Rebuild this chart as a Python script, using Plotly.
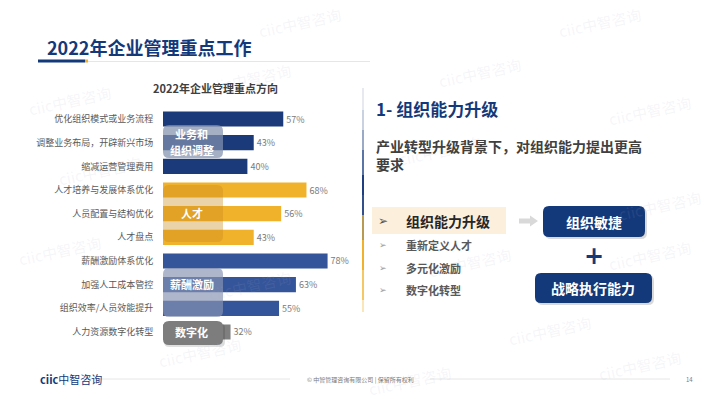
import plotly.graph_objects as go

# ---------------- data ----------------
categories = [
    "优化组织模式或业务流程", "调整业务布局，开辟新兴市场", "缩减运营管理费用",
    "人才培养与发展体系优化", "人员配置与结构优化", "人才盘点",
    "薪酬激励体系优化", "加强人工成本管控", "组织效率/人员效能提升",
    "人力资源数字化转型",
]
values = [57, 43, 40, 68, 56, 43, 78, 63, 55, 32]
groups = ["业务和组织调整"] * 3 + ["人才"] * 3 + ["薪酬激励"] * 3 + ["数字化"]
group_colors = {"业务和组织调整": "#1b3a7a", "人才": "#f0b12b",
                "薪酬激励": "#34559a", "数字化": "#7f7f7f"}
right_items = ["组织能力升级", "重新定义人才", "多元化激励", "数字化转型"]

W, H = 710, 399
FONT = "Noto Sans CJK SC"


def px(x):
    return x / W


def py(y):
    return 1 - y / H


fig = go.Figure()
fig.add_trace(go.Bar(
    y=categories, x=values, orientation="h",
    marker=dict(color=[group_colors[g] for g in groups], line=dict(width=0)),
    width=0.64,
    text=[f"{v}%" for v in values], textposition="outside",
    textfont=dict(size=9, color="#7a7a7a", family=FONT),
    cliponaxis=False, hoverinfo="skip",
))

shapes = []
annotations = []


def ann(x, y, text, size, color, xanchor="center", family=FONT, **kw):
    annotations.append(dict(x=px(x), y=py(y), xref="paper", yref="paper",
                            xanchor=xanchor, yanchor="middle", text=text,
                            showarrow=False, font=dict(size=size, color=color, family=family),
                            **kw))


def rrect(x0, y0, x1, y1, r, fill, layer="above"):
    rx, ry = r / W, r / H
    X0, X1 = px(x0), px(x1)
    Y0, Y1 = py(y1), py(y0)
    path = (f"M{X0+rx},{Y0} L{X1-rx},{Y0} Q{X1},{Y0} {X1},{Y0+ry} "
            f"L{X1},{Y1-ry} Q{X1},{Y1} {X1-rx},{Y1} L{X0+rx},{Y1} "
            f"Q{X0},{Y1} {X0},{Y1-ry} L{X0},{Y0+ry} Q{X0},{Y0} {X0+rx},{Y0} Z")
    shapes.append(dict(type="path", path=path, xref="paper", yref="paper",
                       fillcolor=fill, line=dict(width=0), layer=layer))


# watermarks (kept fully inside the canvas)
wm = [(300, 22), (600, 22), (70, 100), (250, 78), (480, 72), (650, 110),
      (100, 170), (440, 150), (660, 205), (60, 250), (470, 262), (650, 255),
      (250, 285), (550, 330), (200, 352), (640, 365), (410, 380)]
for (x, y) in wm:
    ann(x, y, "ciic中智咨询", 15, "rgba(170,180,195,0.12)", textangle=-12)

# page title
ann(45, 47, "<b>2022年企业管理重点工作</b>", 18, "#14397a", xanchor="left")
shapes.append(dict(type="line", xref="paper", yref="paper", x0=px(86), x1=px(370),
                   y0=py(61.5), y1=py(61.5), line=dict(color="#e6e6e6", width=1)))
shapes.append(dict(type="line", xref="paper", yref="paper", x0=px(38), x1=px(85),
                   y0=py(61), y1=py(61), line=dict(color="#14397a", width=3)))
shapes.append(dict(type="line", xref="paper", yref="paper", x0=px(85), x1=px(88),
                   y0=py(61), y1=py(61), line=dict(color="#f0b12b", width=3)))

# chart title
ann(215, 88, "<b>2022年企业管理重点方向</b>", 11, "#404040")

# group overlay boxes: (label lines, top, bottom, fill, line centres)
box_specs = [
    (["业务和", "组织调整"], 125, 158, "rgba(130,145,175,0.72)", [134, 150]),
    (["人才"], 185, 242, "rgba(200,140,30,0.38)", [213]),
    (["薪酬激励"], 268, 317, "rgba(135,148,178,0.68)", [284]),
    (["数字化"], 321, 345, "rgba(125,125,125,1)", [332]),
]
for lines, y0, y1, col, ycs in box_specs:
    if lines == ["数字化"]:
        rrect(164, y0 + 2, 225, y1 + 2, 5, "rgba(0,0,0,0.12)")
    rrect(163, y0, 223, y1, 6, col)
    for ln, yc in zip(lines, ycs):
        ann(192, yc, f"<b>{ln}</b>", 11, "white")

# right panel vertical gradient line
seg = [(88, "#e6eaf0"), (110, "#c9d2e0"), (130, "#9aaac6"), (150, "#5a74a6"),
       (175, "#1e3f80"), (195, "#34508a"), (215, "#b89a50"), (240, "#f0b12b"),
       (270, "#f5c865"), (300, "#fbe6b8"), (312, "#fdf3de")]
for (ya, ca), (yb, _) in zip(seg[:-1], seg[1:]):
    shapes.append(dict(type="line", xref="paper", yref="paper", x0=px(363), x1=px(363),
                       y0=py(ya), y1=py(yb), line=dict(color=ca, width=2)))

ann(374, 108, "<b>1- 组织能力升级</b>", 17, "#14397a", xanchor="left")
ann(374, 155, "<b>产业转型升级背景下，对组织能力提出更高<br>要求</b>", 14, "#404040",
    xanchor="left", align="left")

# highlighted item
shapes.append(dict(type="rect", xref="paper", yref="paper", x0=px(372), x1=px(506),
                   y0=py(234), y1=py(207), fillcolor="#fcefdc", line=dict(width=0),
                   layer="below"))
item_y = [221, 245, 268, 290]
for i, (it, yy) in enumerate(zip(right_items, item_y)):
    big = i == 0
    ann(383, yy, "➢", 12 if big else 9, "#555" if big else "#9a9a9a", family="DejaVu Sans")
    ann(404, yy, f"<b>{it}</b>", 14 if big else 11,
        "#262626" if big else "#595959", xanchor="left")

# arrow
shapes.append(dict(type="path", xref="paper", yref="paper",
                   path=(f"M{px(519)},{py(218.5)} L{px(530)},{py(218.5)} L{px(530)},{py(215.5)} "
                         f"L{px(538)},{py(221)} L{px(530)},{py(226.5)} L{px(530)},{py(223.5)} "
                         f"L{px(519)},{py(223.5)} Z"),
                   fillcolor="#d9d9d9", line=dict(width=0)))

# navy boxes
rrect(545, 208, 647, 239, 6, "rgba(0,0,0,0.15)")
rrect(543, 206, 645, 237, 6, "#14397a")
ann(594, 221.5, "<b>组织敏捷</b>", 14, "white")
ann(594, 256, "<b>+</b>", 24, "#14397a", family="DejaVu Sans")
rrect(537, 275, 654, 305, 6, "rgba(0,0,0,0.15)")
rrect(535, 273, 652, 303, 6, "#14397a")
ann(593, 288, "<b>战略执行能力</b>", 14, "white")

# footer
ann(38, 379, "<b>ciic</b>中智咨询", 11, "#14397a", xanchor="left")
shapes.append(dict(type="line", xref="paper", yref="paper", x0=px(86), x1=px(290),
                   y0=py(379), y1=py(379), line=dict(color="#e6e6e6", width=1)))
shapes.append(dict(type="line", xref="paper", yref="paper", x0=px(430), x1=px(670),
                   y0=py(379), y1=py(379), line=dict(color="#e6e6e6", width=1)))
ann(360, 379, "© 中智管理咨询有限公司 | 保留所有权利", 6, "#7a7a7a")
ann(689, 379, "14", 6, "#7a7a7a")

fig.update_layout(
    width=W, height=H, margin=dict(l=0, r=0, t=0, b=0),
    paper_bgcolor="white", plot_bgcolor="rgba(0,0,0,0)",
    showlegend=False,
    xaxis=dict(domain=[px(163), px(374)], range=[0, 100], visible=False, fixedrange=True),
    yaxis=dict(domain=[py(343.8), py(107.2)], autorange="reversed",
               showgrid=False, zeroline=False, showline=False,
               ticks="outside", ticklen=7, tickcolor="rgba(0,0,0,0)",
               tickfont=dict(size=9, color="#595959", family=FONT)),
    shapes=shapes, annotations=annotations,
)

fig.write_html("out.html", config={"displayModeBar": False},
               post_script="document.body.style.margin='0';")
